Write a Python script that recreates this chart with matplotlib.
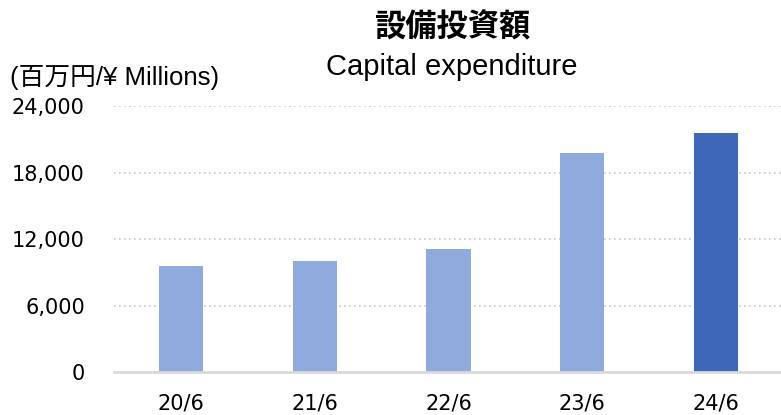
import matplotlib.pyplot as plt

plt.rcParams['font.family'] = ['Liberation Sans', 'Noto Sans CJK JP', 'DejaVu Sans']

periods = ['20/6', '21/6', '22/6', '23/6', '24/6']
capex = [9600, 10000, 11100, 19800, 21600]
bar_colors = ['#8FAADC', '#8FAADC', '#8FAADC', '#8FAADC', '#3D68B9']
yticks = [0, 6000, 12000, 18000, 24000]

fig = plt.figure(figsize=(7.81, 4.15), dpi=100)
ax = fig.add_axes([114 / 781, 42.7 / 415, 669 / 781, 266.4 / 415])

x = range(len(periods))
ax.bar(x, capex, width=0.33, color=bar_colors, zorder=3)

ax.set_xlim(-0.5, len(periods) - 0.5)
ax.set_ylim(0, 24000)
ax.set_yticks(yticks)
ax.set_yticklabels([f"{v:,}" for v in yticks], fontfamily='DejaVu Sans', fontsize=15)
ax.set_xticks(list(x))
ax.set_xticklabels(periods, fontfamily='DejaVu Sans', fontsize=15)
ax.tick_params(axis='y', length=0, pad=21)
ax.tick_params(axis='x', length=0, pad=15)

ax.yaxis.grid(True, linestyle=(0, (1, 2)), color='#C8C8C8', linewidth=1.2, zorder=0)
for s in ['top', 'right', 'left']:
    ax.spines[s].set_visible(False)
ax.spines['bottom'].set_color('#D9D9D9')
ax.spines['bottom'].set_linewidth(2)
ax.spines['bottom'].set_zorder(4)

fig.text(452 / 781, 1 - 28 / 415, '設備投資額', ha='center', va='center',
         fontsize=22.5, fontweight='bold')
fig.text(452 / 781, 1 - 67 / 415, 'Capital expenditure', ha='center', va='center',
         fontsize=21)
fig.text(10 / 781, 1 - 78 / 415, '(百万円/¥ Millions)', ha='left', va='center',
         fontsize=18.5)

plt.savefig('out.png', dpi=100)
